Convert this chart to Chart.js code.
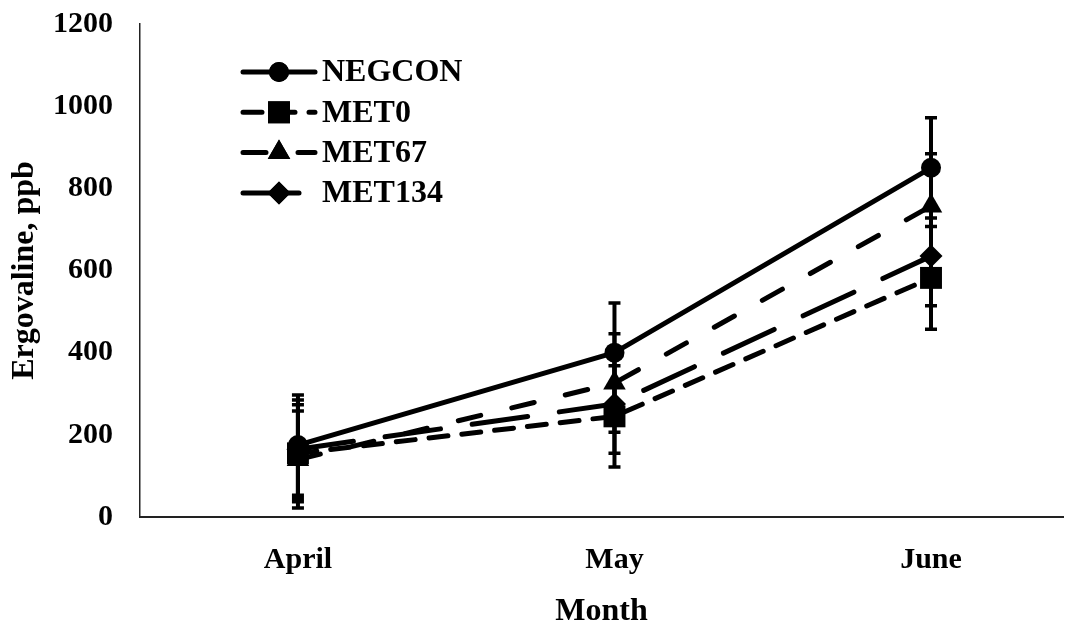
<!DOCTYPE html>
<html><head><meta charset="utf-8">
<script src="https://cdn.jsdelivr.net/npm/chart.js@4.4.1/dist/chart.umd.min.js"></script>
<style>html,body{margin:0;padding:0;background:#fff}#wrap{width:1081px;height:632px;position:relative}</style>
</head><body><div id="wrap"><canvas id="c" width="1081" height="632"></canvas></div>
<script>
// ---- data ----
const months = ['April', 'May', 'June'];
const yTicks = [0, 200, 400, 600, 800, 1000, 1200];
const seriesNames = ['NEGCON', 'MET0', 'MET67', 'MET134'];
const negcon    = [175, 400, 850];
const negconErr = [122, 121, 122];
const met0      = [155, 245, 582];
const met0Err   = [118, 123, 125];
const met67     = [140, 326, 757];
const met67Err  = [118, 120, 127];
const met134    = [165, 275, 635];
const met134Err = [120, 120, 121];

const FONT = "'Liberation Serif', 'Times New Roman', serif";
const toXY = arr => arr.map((v, i) => ({x: i, y: v}));

const styles = [
  {dash: [], pointStyle: 'circle', r: 10},
  {dash: [19, 14], pointStyle: 'rect', r: 15.5},
  {dash: [23, 32], pointStyle: 'triangle', r: 13},
  {dash: [56, 32], pointStyle: 'rectRot', r: 11.5}
];
const values = [negcon, met0, met67, met134];
const errors = [negconErr, met0Err, met67Err, met134Err];

const datasets = seriesNames.map((name, i) => ({
  label: name,
  data: toXY(values[i]),
  errors: errors[i],
  borderColor: '#000',
  backgroundColor: '#000',
  borderWidth: 5,
  borderDash: styles[i].dash,
  borderCapStyle: 'round',
  borderJoinStyle: 'round',
  pointStyle: styles[i].pointStyle,
  pointRadius: styles[i].r,
  pointBorderWidth: 0,
  pointBackgroundColor: '#000',
  tension: 0,
  fill: false
}));

const errorBarPlugin = {
  id: 'errorBars',
  beforeDatasetsDraw(chart) {
    const ctx = chart.ctx;
    const xs = chart.scales.x, ys = chart.scales.y;
    ctx.save();
    ctx.strokeStyle = '#000';
    chart.data.datasets.forEach(ds => {
      ds.data.forEach((p, j) => {
        const e = ds.errors[j];
        const px = xs.getPixelForValue(p.x);
        const top = ys.getPixelForValue(p.y + e);
        const bot = ys.getPixelForValue(p.y - e);
        ctx.lineWidth = 4;
        ctx.beginPath(); ctx.moveTo(px, top); ctx.lineTo(px, bot); ctx.stroke();
        ctx.lineWidth = 3.5;
        ctx.beginPath();
        ctx.moveTo(px - 6, top); ctx.lineTo(px + 6, top);
        ctx.moveTo(px - 6, bot); ctx.lineTo(px + 6, bot);
        ctx.stroke();
      });
    });
    ctx.restore();
  }
};

const legendPlugin = {
  id: 'customLegend',
  afterDraw(chart) {
    const ctx = chart.ctx;
    const x0 = 243, x1 = 315, tx = 322, y0 = 72, dy = 40.3;
    ctx.save();
    chart.data.datasets.forEach((ds, i) => {
      const y = y0 + i * dy;
      ctx.strokeStyle = '#000';
      ctx.lineWidth = 5;
      ctx.lineCap = 'round';
      ctx.setLineDash(ds.borderDash);
      ctx.beginPath(); ctx.moveTo(x0, y); ctx.lineTo(x1, y); ctx.stroke();
      ctx.setLineDash([]);
      ctx.fillStyle = '#000';
      Chart.helpers.drawPoint(ctx, {pointStyle: ds.pointStyle, radius: ds.pointRadius, rotation: 0, borderWidth: 0}, (x0 + x1) / 2, y);
      ctx.fill();
      ctx.font = 'bold 32px ' + FONT;
      ctx.textBaseline = 'middle';
      ctx.textAlign = 'left';
      ctx.fillText(ds.label, tx, y + 1);
    });
    ctx.restore();
  }
};

new Chart(document.getElementById('c'), {
  type: 'line',
  data: {datasets},
  plugins: [errorBarPlugin, legendPlugin],
  options: {
    responsive: false,
    animation: false,
    devicePixelRatio: 1,
    layout: {padding: {top: 24, right: 18, left: 0, bottom: 0}},
    plugins: {legend: {display: false}, tooltip: {enabled: false}},
    scales: {
      x: {
        type: 'linear',
        min: -0.499,
        max: 2.417,
        afterBuildTicks: s => { s.ticks = months.map((m, i) => ({value: i})); },
        afterFit: s => { s.height = 115; s.paddingLeft = 0; s.paddingRight = 0; },
        grid: {display: false, drawTicks: false},
        border: {display: true, color: '#222', width: 2},
        ticks: {
          padding: 25,
          color: '#000',
          font: {family: FONT, size: 30, weight: 'bold'},
          callback: v => months[v]
        },
        title: {
          display: true, text: 'Month', color: '#000',
          font: {family: FONT, size: 32, weight: 'bold'},
          padding: {top: 0, bottom: 1}
        }
      },
      y: {
        min: yTicks[0],
        max: yTicks[yTicks.length - 1],
        afterBuildTicks: s => { s.ticks = yTicks.map(v => ({value: v})); },
        afterFit: s => { s.width = 140; s.paddingTop = 0; s.paddingBottom = 0; },
        grid: {display: false, drawTicks: false},
        border: {display: true, color: '#222', width: 1.5},
        ticks: {
          padding: 27,
          color: '#000',
          font: {family: FONT, size: 30, weight: 'bold'},
          callback: v => String(v)
        },
        title: {
          display: true, text: 'Ergovaline, ppb', color: '#000',
          font: {family: FONT, size: 32, weight: 'bold'},
          padding: {top: 6, bottom: 0}
        }
      }
    }
  }
});
</script></body></html>
